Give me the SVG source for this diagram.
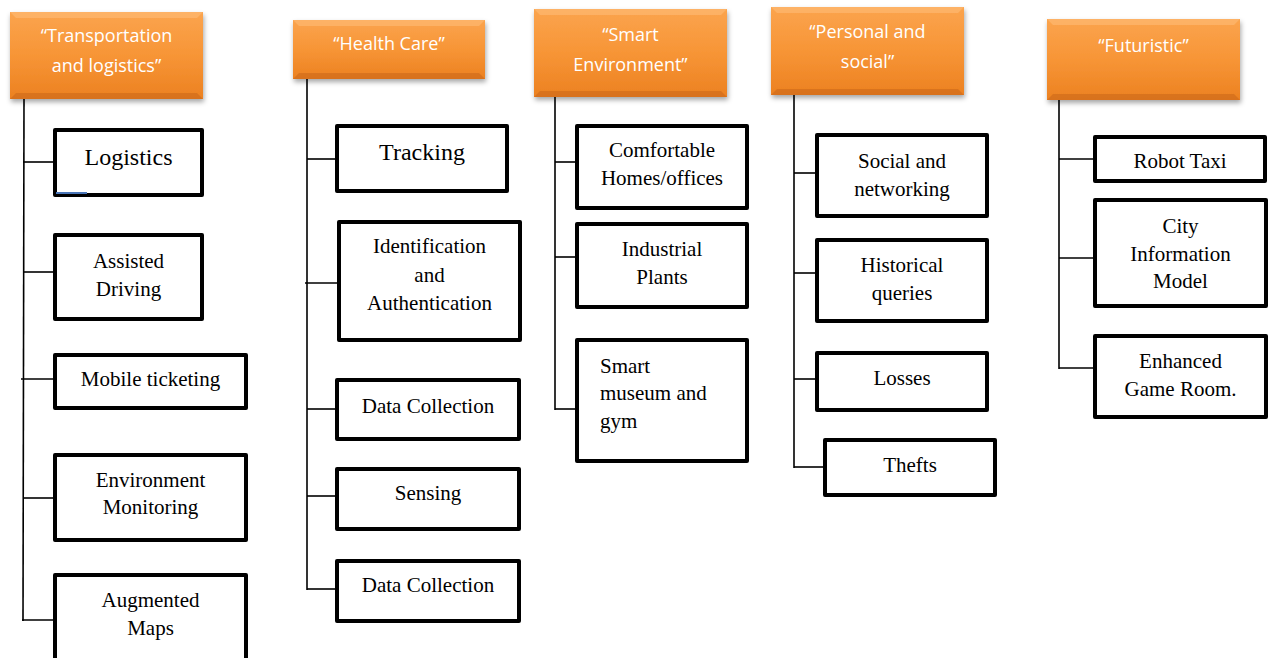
<svg xmlns="http://www.w3.org/2000/svg" width="1269" height="658" viewBox="0 0 1269 658">
<style>
.hdr{fill:url(#og);filter:url(#sh)}
.bvT{fill:#fdb870;opacity:0.7}
.bvB{fill:#c9661a;opacity:0.55}
.bvS{fill:#f08a2c;opacity:0.5}
.ht{font-family:"Open Sans","Liberation Sans",sans-serif;font-size:18px;fill:#fff;text-anchor:middle}
.box{fill:#fff;stroke:#000;stroke-width:4;stroke-linejoin:round}
.t{font-family:"Liberation Serif","Times New Roman",serif;font-size:21px;fill:#000;text-anchor:middle}
.tl{font-family:"Liberation Serif","Times New Roman",serif;font-size:21px;fill:#000}
.big{font-size:24px}
.c line{stroke:#000;stroke-width:1.6}
</style>
<defs>
<linearGradient id="og" x1="0" y1="0" x2="0" y2="1">
<stop offset="0" stop-color="#fba44e"/>
<stop offset="0.5" stop-color="#f79536"/>
<stop offset="1" stop-color="#ec8121"/>
</linearGradient>
<filter id="sh" x="-10%" y="-10%" width="125%" height="135%">
<feDropShadow dx="1" dy="3" stdDeviation="2.5" flood-color="#000" flood-opacity="0.35"/>
</filter>
</defs>
<rect width="1269" height="658" fill="#fff"/>

<g id="connectors" class="c">
<line x1="24" y1="99" x2="23" y2="621"/>
<line x1="23" y1="162" x2="55" y2="162"/>
<line x1="23" y1="272" x2="55" y2="272"/>
<line x1="21" y1="379" x2="55" y2="379"/>
<line x1="23" y1="498" x2="55" y2="498"/>
<line x1="22" y1="620" x2="55" y2="620"/>

<line x1="307" y1="79" x2="307" y2="590"/>
<line x1="307" y1="159" x2="337" y2="159"/>
<line x1="305" y1="283" x2="339" y2="283"/>
<line x1="307" y1="409" x2="337" y2="409"/>
<line x1="307" y1="496" x2="337" y2="496"/>
<line x1="307" y1="589" x2="337" y2="589"/>

<line x1="555" y1="97" x2="555" y2="410"/>
<line x1="555" y1="162" x2="577" y2="162"/>
<line x1="555" y1="257" x2="577" y2="257"/>
<line x1="555" y1="409" x2="577" y2="409"/>

<line x1="794" y1="95" x2="794" y2="468"/>
<line x1="794" y1="173" x2="817" y2="173"/>
<line x1="794" y1="273" x2="817" y2="273"/>
<line x1="794" y1="379" x2="817" y2="379"/>
<line x1="794" y1="467" x2="825" y2="467"/>

<line x1="1059" y1="100" x2="1059" y2="369"/>
<line x1="1059" y1="159" x2="1095" y2="159"/>
<line x1="1059" y1="258" x2="1095" y2="258"/>
<line x1="1059" y1="368" x2="1095" y2="368"/>
</g>

<g id="h1">
<rect class="hdr" x="10" y="12" width="193" height="87"/>
<polygon class="bvT" points="10,12 203,12 197,18 16,18"/>
<polygon class="bvB" points="10,99 203,99 197,93 16,93"/>
<text class="ht" x="106.5" y="42">“Transportation</text>
<text class="ht" x="106.5" y="72">and logistics”</text>
</g>
<g id="n1a"><rect class="box" x="55" y="130" width="147" height="65"/><text class="t big" x="128.5" y="165">Logistics</text><line x1="56" y1="193" x2="87" y2="193" stroke="#4a76b8" stroke-width="2"/></g>
<g id="n1b"><rect class="box" x="55" y="235" width="147" height="84"/><text class="t" x="128.5" y="268">Assisted</text><text class="t" x="128.5" y="296">Driving</text></g>
<g id="n1c"><rect class="box" x="55" y="355" width="191" height="53"/><text class="t" x="150.5" y="386">Mobile ticketing</text></g>
<g id="n1d"><rect class="box" x="55" y="455" width="191" height="85"/><text class="t" x="150.5" y="487">Environment</text><text class="t" x="150.5" y="514">Monitoring</text></g>
<g id="n1e"><rect class="box" x="55" y="575" width="191" height="100"/><text class="t" x="150.5" y="607">Augmented</text><text class="t" x="150.5" y="635">Maps</text></g>

<g id="h2">
<rect class="hdr" x="293" y="20" width="192" height="59"/>
<polygon class="bvT" points="293,20 485,20 479,26 299,26"/>
<polygon class="bvB" points="293,79 485,79 479,73 299,73"/>
<text class="ht" x="389" y="50">“Health Care”</text>
</g>
<g id="n2a"><rect class="box" x="337" y="126" width="170" height="65"/><text class="t big" x="422" y="160">Tracking</text></g>
<g id="n2b"><rect class="box" x="339" y="222" width="181" height="118"/><text class="t" x="429.5" y="253">Identification</text><text class="t" x="429.5" y="282">and</text><text class="t" x="429.5" y="310">Authentication</text></g>
<g id="n2c"><rect class="box" x="337" y="380" width="182" height="59"/><text class="t" x="428" y="413">Data Collection</text></g>
<g id="n2d"><rect class="box" x="337" y="469" width="182" height="60"/><text class="t" x="428" y="500">Sensing</text></g>
<g id="n2e"><rect class="box" x="337" y="561" width="182" height="60"/><text class="t" x="428" y="592">Data Collection</text></g>

<g id="h3">
<rect class="hdr" x="534" y="9" width="193" height="88"/>
<polygon class="bvT" points="534,9 727,9 721,15 540,15"/>
<polygon class="bvB" points="534,97 727,97 721,91 540,91"/>
<text class="ht" x="630.5" y="41">“Smart</text>
<text class="ht" x="630.5" y="71">Environment”</text>
</g>
<g id="n3a"><rect class="box" x="577" y="126" width="170" height="82"/><text class="t" x="662" y="157">Comfortable</text><text class="t" x="662" y="185">Homes/offices</text></g>
<g id="n3b"><rect class="box" x="577" y="224" width="170" height="83"/><text class="t" x="662" y="256">Industrial</text><text class="t" x="662" y="284">Plants</text></g>
<g id="n3c"><rect class="box" x="577" y="340" width="170" height="121"/><text class="tl" x="600" y="373">Smart</text><text class="tl" x="600" y="400">museum and</text><text class="tl" x="600" y="428">gym</text></g>

<g id="h4">
<rect class="hdr" x="771" y="7" width="193" height="88"/>
<polygon class="bvT" points="771,7 964,7 958,13 777,13"/>
<polygon class="bvB" points="771,95 964,95 958,89 777,89"/>
<text class="ht" x="867.5" y="38">“Personal and</text>
<text class="ht" x="867.5" y="68">social”</text>
</g>
<g id="n4a"><rect class="box" x="817" y="135" width="170" height="81"/><text class="t" x="902" y="168">Social and</text><text class="t" x="902" y="196">networking</text></g>
<g id="n4b"><rect class="box" x="817" y="240" width="170" height="81"/><text class="t" x="902" y="272">Historical</text><text class="t" x="902" y="300">queries</text></g>
<g id="n4c"><rect class="box" x="817" y="353" width="170" height="57"/><text class="t" x="902" y="385">Losses</text></g>
<g id="n4d"><rect class="box" x="825" y="440" width="170" height="55"/><text class="t" x="910" y="472">Thefts</text></g>

<g id="h5">
<rect class="hdr" x="1047" y="19" width="193" height="81"/>
<polygon class="bvT" points="1047,19 1240,19 1234,25 1053,25"/>
<polygon class="bvB" points="1047,100 1240,100 1234,94 1053,94"/>
<text class="ht" x="1143.5" y="52">“Futuristic”</text>
</g>
<g id="n5a"><rect class="box" x="1095" y="137" width="170" height="44"/><text class="t" x="1180" y="168">Robot Taxi</text></g>
<g id="n5b"><rect class="box" x="1095" y="200" width="171" height="106"/><text class="t" x="1180.5" y="233">City</text><text class="t" x="1180.5" y="261">Information</text><text class="t" x="1180.5" y="288">Model</text></g>
<g id="n5c"><rect class="box" x="1095" y="336" width="171" height="81"/><text class="t" x="1180.5" y="368">Enhanced</text><text class="t" x="1180.5" y="396">Game Room.</text></g>
</svg>
